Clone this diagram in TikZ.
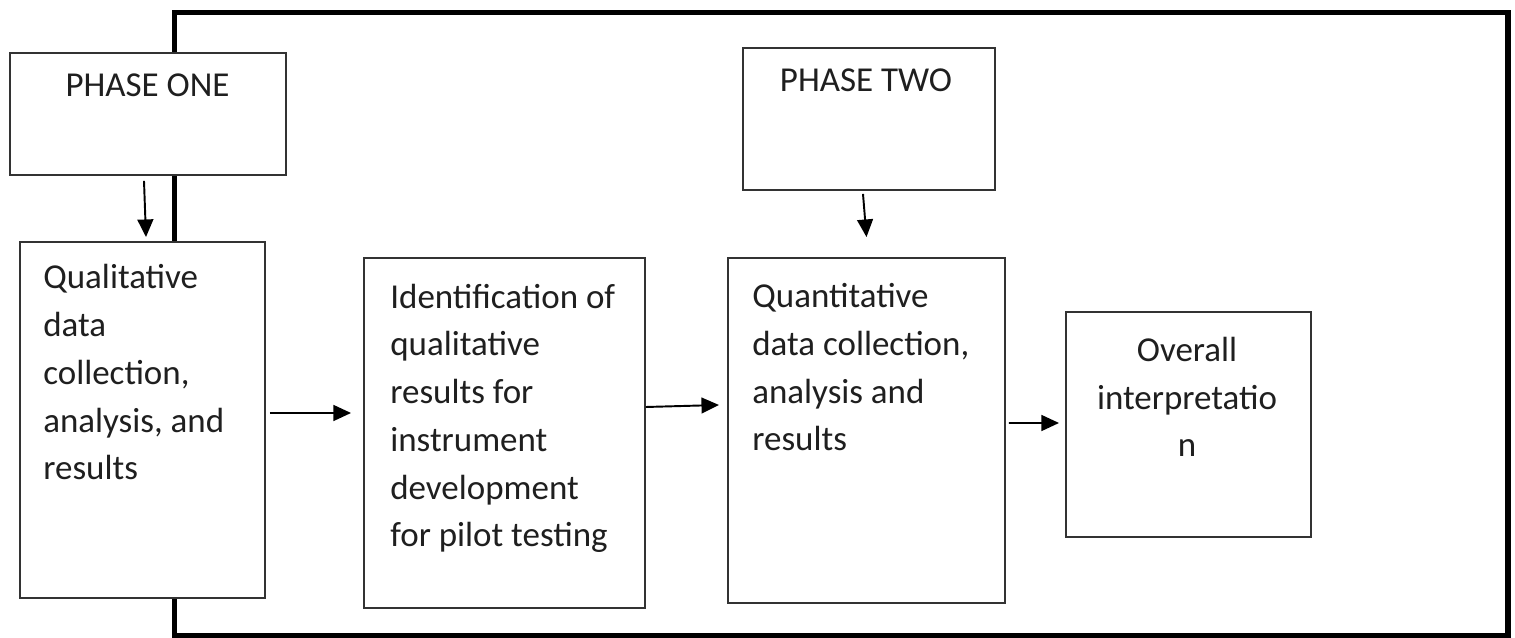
\documentclass[tikz,border=0pt]{standalone}
\usepackage{fontspec}
\setmainfont{Carlito}
\usetikzlibrary{arrows.meta,positioning}
\definecolor{boxgray}{HTML}{333333}
\definecolor{textgray}{HTML}{1F1F1F}

\begin{document}
\begin{tikzpicture}[>={Triangle[length=10pt,width=9pt]},
  box/.style={draw=boxgray, line width=1.1pt, fill=white, inner sep=0pt},
  txt/.style={inner sep=0pt, text=textgray, font=\fontsize{19.9}{27.2}\selectfont},
  arr/.style={->, line width=1.1pt, draw=black}]
  \useasboundingbox (0,0) rectangle (30.3,12.76);
  % outer frame
  \draw[line width=3.4pt] (3.49,0.04) rectangle (30.16,12.51);

  % phase one
  \node[box, minimum width=5.52cm, minimum height=2.44cm] (p1) at (2.96,10.48) {};
  \node[txt, anchor=base] (p1txt) at (2.95,10.82) {PHASE ONE};
  \node[box, minimum width=4.9cm, minimum height=7.12cm] (qual) at (2.85,4.36) {};
  \node[txt, anchor=base west, align=left] (qualtxt) at (0.86,3.16)
    {Qualitative\\data\\collection,\\analysis, and\\results};
  \node[box, minimum width=5.62cm, minimum height=7cm] (ident) at (10.09,4.1) {};
  \node[txt, anchor=base west, align=left] (identtxt) at (7.8,1.82)
    {Identification of\\qualitative\\results for\\instrument\\development\\for pilot testing};

  % phase two
  \node[box, minimum width=5.04cm, minimum height=2.84cm] (p2) at (17.38,10.38) {};
  \node[txt, anchor=base] (p2txt) at (17.32,10.92) {PHASE TWO};
  \node[box, minimum width=5.54cm, minimum height=6.9cm] (quant) at (17.33,4.15) {};
  \node[txt, anchor=base west, align=left] (quanttxt) at (15.04,3.74)
    {Quantitative\\data collection,\\analysis and\\results};
  \node[box, minimum width=4.9cm, minimum height=4.5cm] (overall) at (23.77,4.27) {};
  \node[txt, anchor=base, align=center] (overalltxt) at (23.74,3.62)
    {Overall\\interpretatio\\n};

  % arrows
  \draw[arr] ([xshift=-0.08cm,yshift=-0.1cm]p1.south) -- ([xshift=0.07cm,yshift=0.08cm]qual.north);
  \draw[arr] ([xshift=0.08cm,yshift=0.14cm]qual.east) -- ([xshift=-0.24cm,yshift=0.4cm]ident.west);
  \draw[arr] ([yshift=0.52cm]ident.east) -- ([xshift=-0.16cm,yshift=0.51cm]quant.west);
  \draw[arr] ([xshift=-0.12cm,yshift=-0.06cm]p2.south) -- ([yshift=0.4cm]quant.north);
  \draw[arr] ([xshift=0.06cm,yshift=0.15cm]quant.east) -- ([xshift=-0.12cm,yshift=0.03cm]overall.west);
\end{tikzpicture}
\end{document}
